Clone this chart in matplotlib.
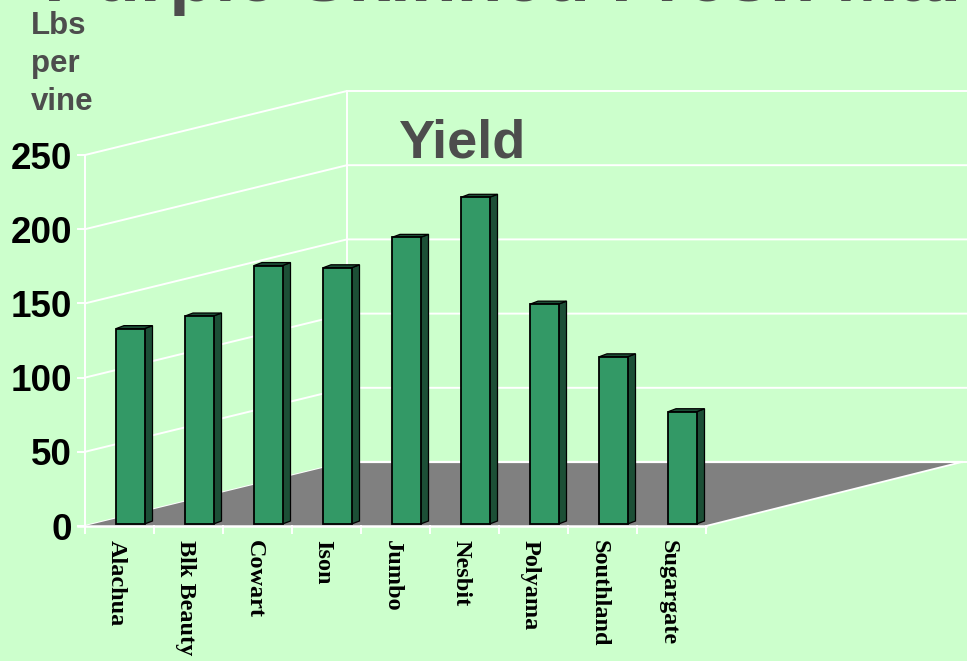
# 3D style column chart, drawn by hand on one flat axes
import matplotlib
matplotlib.use("Agg")
import matplotlib.pyplot as plt
from matplotlib.patches import Polygon

varieties = ["Alachua", "Blk Beauty", "Cowart", "Ison", "Jumbo", "Nesbit",
             "Polyama", "Southland", "Sugargate"]
yields = [133, 141.5, 175.5, 174, 194.5, 221.5, 149.5, 114, 77]
yticks = [0, 50, 100, 150, 200, 250]

title = "Purple Skinned Fresh Market"
subtitle = "Yield"
ylabel_lines = ["Lbs", "per", "vine"]

bg = "#CCFFCC"
front_col = "#339966"
side_col = "#1C4F36"
floor_col = "#808080"
text_col = "#4D4D4D"

W, H = 967, 661
x0_px, y0_px = 85, 526     # origin of the chart in pixels
cat_px = 69                # pixels for one category
val_px = 371 / 250         # pixels for one lb

depth_x = 262 / cat_px     # wall offset in category units
depth_y = 64 / val_px      # wall offset in lbs
bar_dx = 8 / cat_px
bar_dy = 3 / val_px
floor_trim = 0.09

fig = plt.figure(figsize=(W / 100, H / 100), dpi=100, facecolor=bg)
ax = fig.add_axes([0, 0, 1, 1])
ax.set_xlim(-x0_px / cat_px, (W - x0_px) / cat_px)
ax.set_ylim(-(H - y0_px) / val_px, y0_px / val_px)
ax.axis("off")

n = len(varieties)
right_edge = ax.get_xlim()[1]

# walls
for v in yticks:
    ax.plot([0, depth_x, right_edge], [v, v + depth_y, v + depth_y],
            color="white", lw=1.4, zorder=1, solid_joinstyle="miter")
    ax.plot([-7 / cat_px, 0], [v, v], color="white", lw=1.4, zorder=1)
ax.plot([0, 0], [0, 250], color="white", lw=1.4, zorder=1)
ax.plot([depth_x, depth_x], [depth_y, 250 + depth_y], color="white", lw=1.4, zorder=1)

# floor
floor_back = n + depth_x - floor_trim
floor = Polygon([(0, 0), (depth_x, depth_y), (floor_back, depth_y), (n, 0)],
                closed=True, facecolor=floor_col, edgecolor="none", zorder=2)
ax.add_patch(floor)
ax.plot([n, floor_back], [0, depth_y], color="white", lw=1.3, zorder=3)
ax.plot([depth_x, floor_back], [depth_y, depth_y], color="white", lw=1.6, zorder=3)
ax.plot([-7 / cat_px, n], [0, 0], color="white", lw=1.8, zorder=3)
for i in range(n + 1):
    ax.plot([i, i], [0, -7 / val_px], color="white", lw=1.4, zorder=3)

# bars
base = 2 / val_px
left = 31 / cat_px
width = 28.5 / cat_px
for i, v in enumerate(yields):
    xl = i + left
    xr = xl + width
    ax.add_patch(Polygon([(xr, base), (xr + bar_dx, base + bar_dy),
                          (xr + bar_dx, v + bar_dy), (xr, v)],
                         closed=True, facecolor=side_col, edgecolor="black",
                         lw=0.9, zorder=4))
    ax.add_patch(Polygon([(xl, v), (xl + bar_dx, v + bar_dy),
                          (xr + bar_dx, v + bar_dy), (xr, v)],
                         closed=True, facecolor=side_col, edgecolor="black",
                         lw=0.9, zorder=4))
ax.bar([i + left + width / 2 for i in range(n)], [v - base for v in yields],
       width=width, bottom=base, color=front_col, edgecolor="black", lw=1.3, zorder=5)

# category labels
for i, name in enumerate(varieties):
    ax.text(i + 0.45, -14 / val_px, name, rotation=-90, ha="center", va="top",
            family=["Liberation Serif", "DejaVu Serif"], weight="bold",
            fontsize=17.5, color="black", zorder=6)

# value labels
for v in yticks:
    ax.text(-13 / cat_px, v, str(v), ha="right", va="center_baseline",
            family=["Liberation Sans", "DejaVu Sans"], weight="bold",
            fontsize=26.5, color="black", zorder=6)

sans = ["Liberation Sans", "DejaVu Sans"]
fig.text(44.5 / W, 1 - 1.5 / H, title, ha="left", va="baseline", family=sans, weight="bold",
         fontsize=54, color=text_col)
fig.text(462 / W, 1 - 157 / H, subtitle, ha="center", va="baseline", family=sans, weight="bold",
         fontsize=39, color=text_col)
for line, y in zip(ylabel_lines, [34, 72, 110]):
    fig.text(31 / W, 1 - y / H, line, ha="left", va="baseline", family=sans, weight="bold",
             fontsize=22.5, color=text_col)

fig.savefig("out.png", dpi=100, facecolor=bg)
